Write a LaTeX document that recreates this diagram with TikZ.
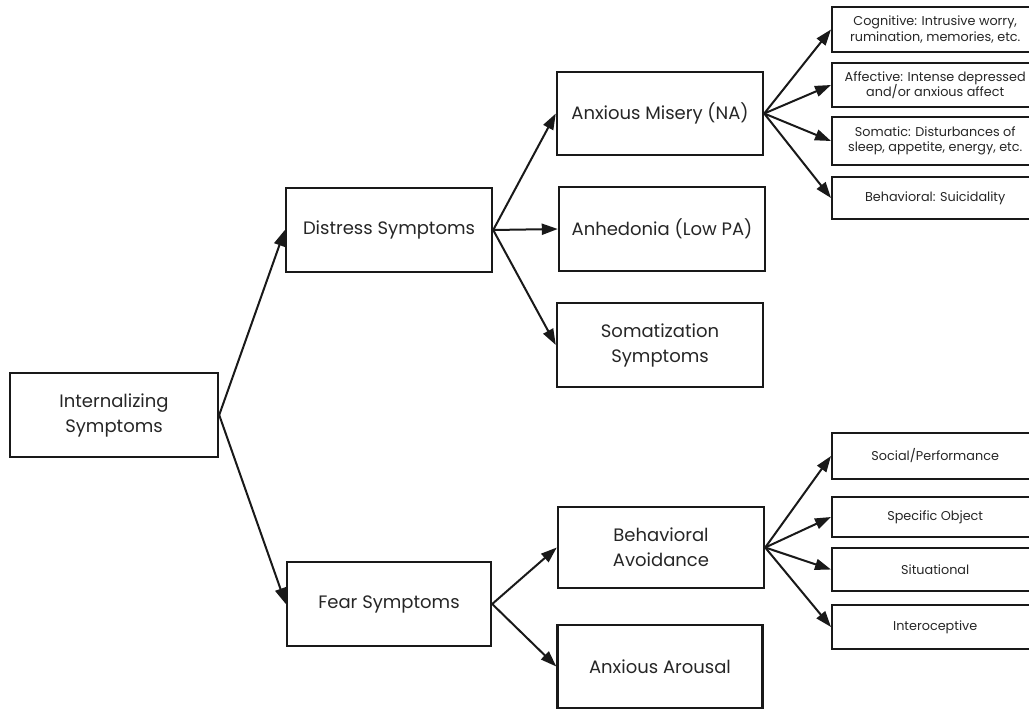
\documentclass[tikz,border=0pt]{standalone}
\usepackage{fontspec}
\setmainfont{Poppins}
\usetikzlibrary{arrows.meta}
\begin{document}
\begin{tikzpicture}[x=1pt,y=-1pt,
    box/.style={draw, black!90, text=black!85, line width=2.4pt, align=center, inner sep=2pt, font=\fontsize{18}{25}\selectfont},
    leaf/.style={draw, black!90, text=black!85, line width=2.4pt, align=center, anchor=west, minimum width=206pt, inner sep=1pt, font=\fontsize{12.8}{15.5}\selectfont},
    link/.style={black!90, line width=2pt, -{Triangle[length=16pt,width=11pt]}}]

    \clip (0,0) rectangle (1029,710);

    \node (int) [box, minimum width=208pt, minimum height=84pt] at (114,415) {Internalizing\\Symptoms};
    \node (dist) [box, minimum width=206pt, minimum height=84pt] at (389,230) {Distress Symptoms};
    \node (fear) [box, minimum width=204pt, minimum height=84pt] at (389,604) {Fear Symptoms};

    \node (am) [box, minimum width=206pt, minimum height=83pt] at (660,113.5) {Anxious Misery (NA)};
    \node (anh) [box, minimum width=206pt, minimum height=84pt] at (662,229) {Anhedonia (Low PA)};
    \node (som) [box, minimum width=206pt, minimum height=84pt] at (660,345) {Somatization\\Symptoms};
    \node (ba) [box, minimum width=206pt, minimum height=81pt] at (661,547.5) {Behavioral\\Avoidance};
    \node (aa) [box, minimum width=205pt, minimum height=83pt] at (660,666.5) {Anxious Arousal};

    \foreach \y/\h/\t [count=\i] in {29.5/45/{Cognitive: Intrusive worry,\\rumination, memories, etc.},
        85/44/{Affective: Intense depressed\\and/or anxious affect},
        141/48/{Somatic: Disturbances of\\sleep, appetite, energy, etc.},
        198/42/{Behavioral: Suicidality}}
    \node (am\i) [leaf, minimum height=\h pt] at (831,\y) {\t};

    \foreach \y/\h/\t [count=\i] in {456/46/{Social/Performance},
        517/40/{Specific Object},
        569.5/43/{Situational},
        627/44/{Interoceptive}}
    \node (ba\i) [leaf, minimum height=\h pt] at (831,\y) {\t};

    \draw[link] (int.east) -- (dist.west);
    \draw[link] (int.east) -- (fear.west);
    \foreach \n in {am,anh,som}
    \draw[link] (dist.east) -- (\n.west);
    \foreach \n in {ba,aa}
    \draw[link] (fear.east) -- (\n.west);
    \foreach \i in {1,...,4}{
    \draw[link] (am.east) -- (am\i.west);
    \draw[link] (ba.east) -- (ba\i.west);
    }

\end{tikzpicture}
\end{document}
